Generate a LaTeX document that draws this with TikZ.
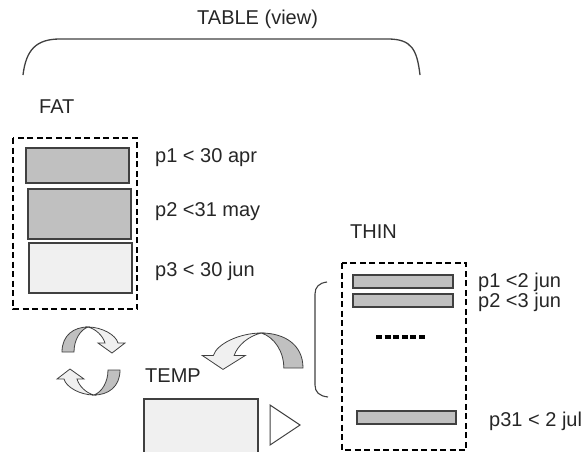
\documentclass[tikz,border=0pt]{standalone}
\usepackage{fontspec}
\setmainfont{Liberation Sans}
\definecolor{barfill}{HTML}{C0C0C0}
\definecolor{palefill}{HTML}{F0F0F0}
\definecolor{edge}{HTML}{404040}

\begin{document}
\begin{tikzpicture}[x=1pt,y=-1pt,
  every node/.style={font=\fontsize{20}{24}\selectfont,text=black!85,
    inner sep=0pt,anchor=base west},
  part/.style={draw=edge,line width=1.3pt},
  box/.style={draw=black,line width=1.5pt,dash pattern=on 6pt off 3.5pt},
  twist/.pic={
    \filldraw[draw=edge,fill=barfill,line width=0.8pt]
      (0,0) .. controls (0,-17) and (12,-25) .. (26,-25)
      .. controls (18,-22) and (12,-12) .. (12,0) -- cycle;
    \filldraw[draw=edge,fill=palefill,line width=0.8pt]
      (26,-25) .. controls (40,-25) and (54,-17) .. (56,-9) -- (63,-9)
      -- (50,1) -- (36,-9) -- (43,-9)
      .. controls (41,-16) and (34,-23) .. (26,-25) -- cycle;
  }]
  \useasboundingbox (0,0) rectangle (585,451);

  \node (title) at (197,24) {TABLE (view)};
  \draw[edge,line width=1.3pt] (23,75) .. controls (26,50) and (36,39) .. (60,39)
    -- (388,39) .. controls (412,39) and (417,50) .. (420,75);

  \node (fat) at (39,113) {FAT};
  \draw[box] (13,138) rectangle (137,309);
  \draw[part,fill=barfill] (26,148) rectangle (129,183);
  \draw[part,fill=barfill] (28,189) rectangle (131,239);
  \draw[part,fill=palefill] (29,243) rectangle (132,293);
  \node (fp1) at (155,162) {p1 < 30 apr};
  \node (fp2) at (155,216) {p2 <31 may};
  \node (fp3) at (155,276) {p3 < 30 jun};

  \pic at (62,352) {twist};
  \pic[rotate=180] at (120,370) {twist};
  \pic[xscale=-1.6,yscale=1.4] at (303,368) {twist};

  \node (temp) at (145,382) {TEMP};
  \draw[part,fill=palefill] (144,460) -- (144,399) -- (258,399) -- (258,460);
  \draw[edge,line width=1pt] (270,405) -- (300,425) -- (270,445) -- cycle;

  \node (thin) at (350,238) {THIN};
  \draw[box] (342,263) rectangle (466,450);
  \draw[part,fill=barfill] (353,275) rectangle (453,288);
  \draw[part,fill=barfill] (353,294) rectangle (453,307);
  \draw[line width=3.5pt,dash pattern=on 6pt off 2.6pt] (376,337) -- (425,337);
  \draw[part,fill=barfill] (357,411) rectangle (456,424);
  \draw[edge,line width=1.1pt] (327,282) .. controls (319,283) and (315,287) .. (315,294)
    -- (315,385) .. controls (315,392) and (319,396) .. (328,397);
  \node (tp1) at (478,287) {p1 <2 jun};
  \node (tp2) at (478,307) {p2 <3 jun};
  \node (tp31) at (489,426) {p31 < 2 jul};
\end{tikzpicture}
\end{document}
